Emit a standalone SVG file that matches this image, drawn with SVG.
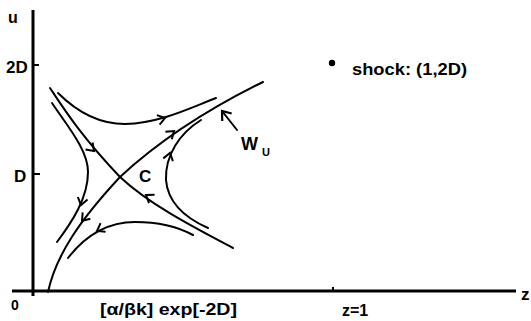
<svg xmlns="http://www.w3.org/2000/svg" width="531" height="321" viewBox="0 0 531 321">
<style>
text{font-family:"Liberation Sans",Arial,sans-serif;font-weight:bold;fill:#000}
.ax{stroke:#000;stroke-width:3;fill:none}
.cv{stroke:#000;stroke-width:2;fill:none;stroke-linecap:round}
.ah{stroke:none;fill:none}
</style>
<defs>
<marker id="chev" markerUnits="userSpaceOnUse" markerWidth="14" markerHeight="14" viewBox="-8 -7 10 14" refX="0" refY="0" orient="auto">
<path d="M-7,-5 L0,0 L-7,5" fill="none" stroke="#000" stroke-width="2"/>
</marker>
<marker id="arr" markerUnits="userSpaceOnUse" markerWidth="14" markerHeight="14" viewBox="-8 -7 10 14" refX="0" refY="0" orient="auto">
<path d="M-8,-6 L0,0 L-8,6" fill="none" stroke="#000" stroke-width="2.2"/>
</marker>
</defs>
<g id="axes">
<line class="ax" x1="33" y1="10" x2="33" y2="296"/>
<line class="ax" x1="12" y1="291" x2="516" y2="291"/>
<line x1="33" y1="65" x2="39" y2="65" stroke="#000" stroke-width="2"/>
<line x1="33" y1="174" x2="40" y2="174" stroke="#000" stroke-width="2"/>
<line x1="333" y1="287" x2="333" y2="291" stroke="#000" stroke-width="2"/>
<text x="8" y="23" font-size="16">u</text>
<text x="6" y="73" font-size="17">2D</text>
<text x="14" y="182" font-size="17">D</text>
<text x="11" y="310" font-size="14">0</text>
<text x="521" y="300" font-size="17">z</text>
<text x="342" y="316" font-size="16">z=1</text>
<text x="100" y="315" font-size="16" textLength="137" lengthAdjust="spacingAndGlyphs">[α/βk] exp[-2D]</text>
</g>
<g id="shock">
<circle cx="332" cy="63" r="3.2" fill="#000"/>
<text x="352" y="75" font-size="17" textLength="115" lengthAdjust="spacingAndGlyphs">shock: (1,2D)</text>
</g>
<g id="C">
<text x="139" y="182" font-size="17">C</text>
</g>
<g id="Wu">
<text x="241" y="150" font-size="18">W</text>
<text x="262" y="156" font-size="11">U</text>
</g>
<g id="connectors">
<!-- stable manifold -->
<path class="cv" d="M50,88 C62,106 80,135 120,177 C150,205 195,228 233,248"/>
<!-- unstable manifold -->
<path class="cv" d="M48,292 C56,255 80,220 120,177 C160,140 210,108 263,82"/>
<!-- trajectories -->
<path class="cv" d="M58,93 C78,113 100,124 125,124 C160,123 190,108 216,98"/>
<path class="cv" d="M52,103 C68,127 88,150 88,172 C88,198 72,222 57,242"/>
<path class="cv" d="M68,258 C85,236 108,222 135,222 C160,222 180,228 193,235"/>
<path class="cv" d="M201,120 C180,133 165,155 166,180 C168,205 190,220 208,228"/>
<!-- W_u pointer -->
<line class="cv" x1="237" y1="130" x2="222" y2="111" marker-end="url(#arr)"/>
<!-- direction arrowheads -->
<line class="ah" x1="88" y1="145" x2="94" y2="151" marker-end="url(#chev)"/>
<line class="ah" x1="152" y1="199" x2="146" y2="195" marker-end="url(#chev)"/>
<line class="ah" x1="87" y1="215" x2="82" y2="221" marker-end="url(#chev)"/>
<line class="ah" x1="168" y1="136" x2="174" y2="131" marker-end="url(#chev)"/>
<line class="ah" x1="158" y1="120" x2="165" y2="118" marker-end="url(#chev)"/>
<line class="ah" x1="83" y1="197" x2="81" y2="205" marker-end="url(#chev)"/>
<line class="ah" x1="104" y1="227" x2="97" y2="231" marker-end="url(#chev)"/>
<line class="ah" x1="168" y1="160" x2="170" y2="153" marker-end="url(#chev)"/>
</g>
</svg>
